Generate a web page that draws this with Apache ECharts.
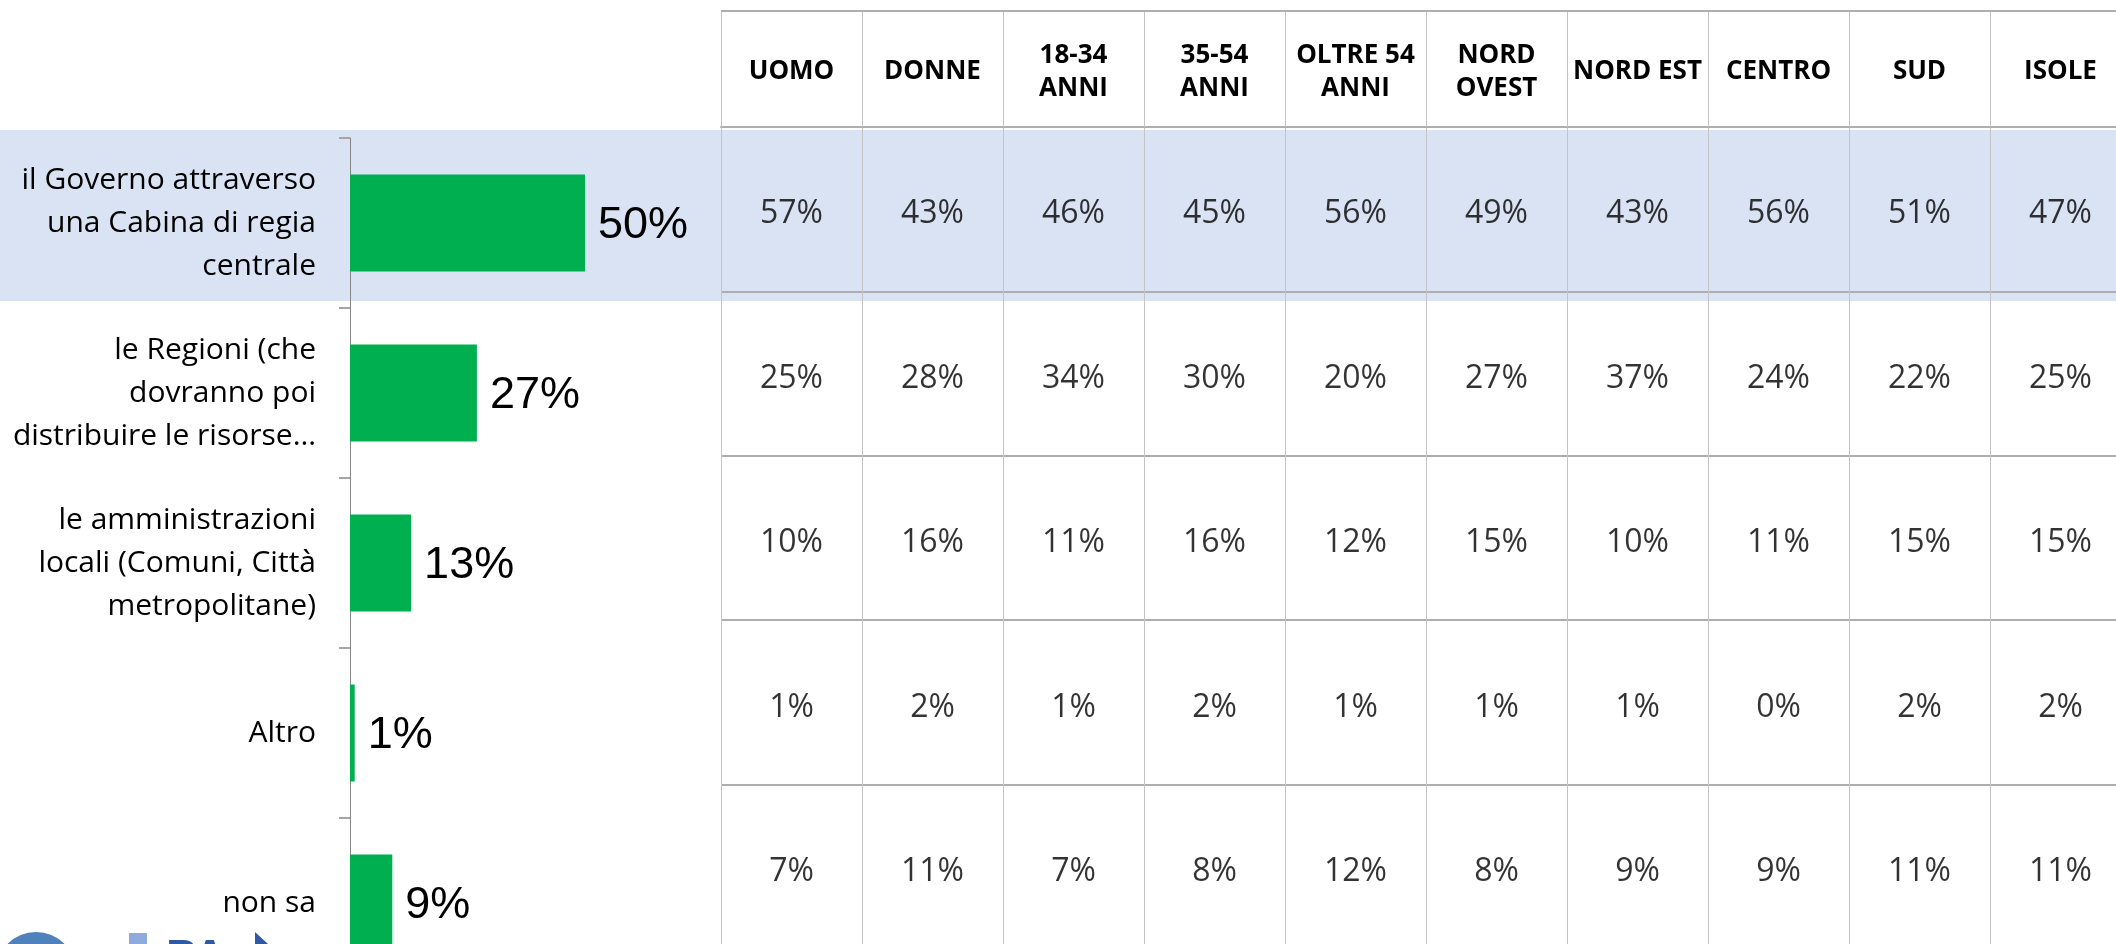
<!DOCTYPE html>
<html>
<head>
<meta charset="utf-8">
<script src="https://cdn.jsdelivr.net/npm/echarts@6/dist/echarts.min.js"></script>
<style>
html,body{margin:0;padding:0;background:#fff;}
#chart{width:2116px;height:944px;}
</style>
</head>
<body>
<div id="chart"></div>
<script>
// ---- data ----
var categories = [
  'il Governo attraverso\nuna Cabina di regia\ncentrale',
  'le Regioni (che\ndovranno poi\ndistribuire le risorse\u2026',
  'le amministrazioni\nlocali (Comuni, Citt\u00e0\nmetropolitane)',
  'Altro',
  'non sa'
];
var totals = [50, 27, 13, 1, 9];
var columns = ['UOMO', 'DONNE', '18-34\nANNI', '35-54\nANNI', 'OLTRE 54\nANNI', 'NORD\nOVEST', 'NORD EST', 'CENTRO', 'SUD', 'ISOLE'];
var rowGoverno  = [57, 43, 46, 45, 56, 49, 43, 56, 51, 47];
var rowRegioni  = [25, 28, 34, 30, 20, 27, 37, 24, 22, 25];
var rowAmmin    = [10, 16, 11, 16, 12, 15, 10, 11, 15, 15];
var rowAltro    = [1, 2, 1, 2, 1, 1, 1, 0, 2, 2];
var rowNonSa    = [7, 11, 7, 8, 12, 8, 9, 9, 11, 11];
var tableRows = [rowGoverno, rowRegioni, rowAmmin, rowAltro, rowNonSa];

// build table cell data
var cellData = [];
tableRows.forEach(function (row, r) {
  row.forEach(function (v, c) { cellData.push([c, r, v]); });
});

var chart = echarts.init(document.getElementById('chart'));
var option = {
  backgroundColor: '#ffffff',
  animation: false,
  graphic: [
    { type: 'rect', z: -1, shape: { x: 0, y: 130, width: 2116, height: 171 }, style: { fill: '#DAE3F3' } },
    { type: 'line', z: 5, shape: { x1: 721, y1: 11, x2: 2116, y2: 11 }, style: { stroke: '#AEAEAE', lineWidth: 2 } },
    // partial logo at bottom-left
    { type: 'ring', z: 5, shape: { cx: 36, cy: 972, r: 40, r0: 27 }, style: { fill: '#4F81BD' } },
    { type: 'rect', z: 5, shape: { x: 129, y: 933, width: 18, height: 12 }, style: { fill: '#8FAADC' } },
    { type: 'text', z: 5, x: 166, y: 936, style: { text: 'PA', font: 'bold 46px "Liberation Sans"', fill: '#2F58A5', textVerticalAlign: 'top' } },
    { type: 'polygon', z: 5, shape: { points: [[255, 932], [268, 944], [255, 944]] }, style: { fill: '#2F58A5' } }
  ],
  grid: [
    { left: 350, top: 138, width: 470, height: 850, containLabel: false, outerBoundsMode: 'none' },
    { left: 721, top: 127, width: 1410, height: 822, containLabel: false, outerBoundsMode: 'none' }
  ],
  xAxis: [
    { type: 'value', gridIndex: 0, min: 0, max: 100, show: false },
    {
      type: 'category', gridIndex: 1, data: columns, position: 'top',
      axisLine: { show: true, lineStyle: { color: '#AEAEAE', width: 2 } },
      axisTick: { show: true, length: 116, interval: 0, alignWithLabel: false, lineStyle: { color: '#C4C4C4', width: 1 } },
      axisLabel: {
        interval: 0, margin: 55, verticalAlign: 'middle',
        color: '#000', fontFamily: 'Open Sans', fontWeight: 'bold', fontSize: 26, lineHeight: 33
      },
      splitLine: { show: true, interval: 0, lineStyle: { color: '#C4C4C4', width: 1 } }
    }
  ],
  yAxis: [
    {
      type: 'category', gridIndex: 0, data: categories, inverse: true,
      axisLine: { show: true, lineStyle: { color: '#868686', width: 1 } },
      axisTick: { show: true, length: 11, alignWithLabel: false, lineStyle: { color: '#A6A6A6', width: 2 } },
      axisLabel: {
        margin: 34, color: '#000', fontFamily: 'Open Sans', fontSize: 30, lineHeight: 43, align: 'right'
      }
    },
    {
      type: 'category', gridIndex: 1, data: categories, inverse: true,
      axisLine: { show: false }, axisTick: { show: false }, axisLabel: { show: false },
      splitLine: { show: true, interval: 0, lineStyle: { color: '#AEAEAE', width: 2 } }
    }
  ],
  series: [
    {
      type: 'bar', xAxisIndex: 0, yAxisIndex: 0, data: totals, barWidth: 97,
      itemStyle: { color: '#00B050' },
      label: {
        show: true, position: 'right', distance: 13, offset: [0, 3], formatter: '{c}%',
        color: '#000', fontFamily: 'Liberation Sans', fontSize: 45
      }
    },
    {
      type: 'scatter', xAxisIndex: 1, yAxisIndex: 1, data: cellData,
      symbol: 'rect', symbolSize: 1, itemStyle: { color: 'rgba(0,0,0,0)' },
      label: {
        show: true, position: 'inside', offset: [0, 5],
        formatter: function (p) { return p.value[2] + '%'; },
        color: '#000', fontFamily: 'Open Sans', fontSize: 32
      },
      emphasis: { disabled: true }
    }
  ]
};
chart.setOption(option);
</script>
</body>
</html>
